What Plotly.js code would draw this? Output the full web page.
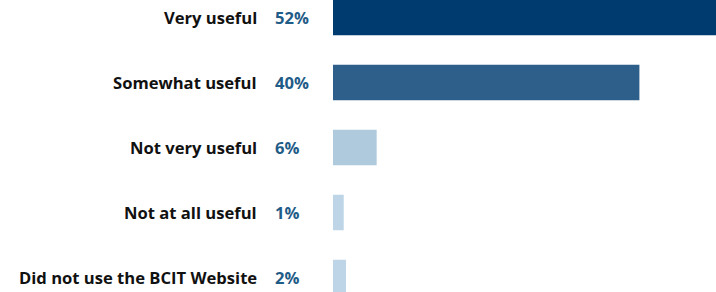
<!DOCTYPE html>
<html>
<head>
<meta charset="utf-8">
<script src="https://cdn.plot.ly/plotly-3.0.1.min.js"></script>
<style>html,body{margin:0;padding:0;background:#fff;}#chart{width:716px;height:292px;}</style>
</head>
<body>
<div id="chart"></div>
<script>
const categories = ["Very useful", "Somewhat useful", "Not very useful", "Not at all useful", "Did not use the BCIT Website"];
const values = [52, 40, 5.7, 1.4, 1.7];
const valueLabels = ["52%", "40%", "6%", "1%", "2%"];
const barColors = ["#003B70", "#2E5F8A", "#AFCADD", "#BDD5E6", "#BDD5E6"];

const trace = {
  type: "bar",
  orientation: "h",
  y: categories,
  x: values,
  marker: {color: barColors},
  hoverinfo: "none"
};

const annotations = [];
categories.forEach((c, i) => {
  annotations.push({
    xref: "paper", yref: "y", x: -0.194, y: c, xanchor: "right", yanchor: "middle",
    text: "<b>" + c + "</b>", showarrow: false,
    font: {family: "'Open Sans', sans-serif", size: 16.6, color: "#111111"}
  });
  annotations.push({
    xref: "paper", yref: "y", x: -0.157, y: c, xanchor: "left", yanchor: "middle",
    text: "<b>" + valueLabels[i] + "</b>", showarrow: false,
    font: {family: "'Open Sans', sans-serif", size: 16.6, color: "#1F5C87"}
  });
});

const layout = {
  width: 716, height: 292,
  margin: {l: 333, r: 0, t: 0, b: 0, pad: 0},
  paper_bgcolor: "#ffffff", plot_bgcolor: "#ffffff",
  showlegend: false,
  bargap: 0.454,
  xaxis: {range: [0, 50], visible: false, fixedrange: true},
  yaxis: {type: "category", range: [4.223, -0.269], showticklabels: false, showgrid: false, zeroline: false, showline: false, ticks: "", fixedrange: true},
  annotations: annotations
};

Plotly.newPlot("chart", [trace], layout, {displayModeBar: false, staticPlot: true});
</script>
</body>
</html>
